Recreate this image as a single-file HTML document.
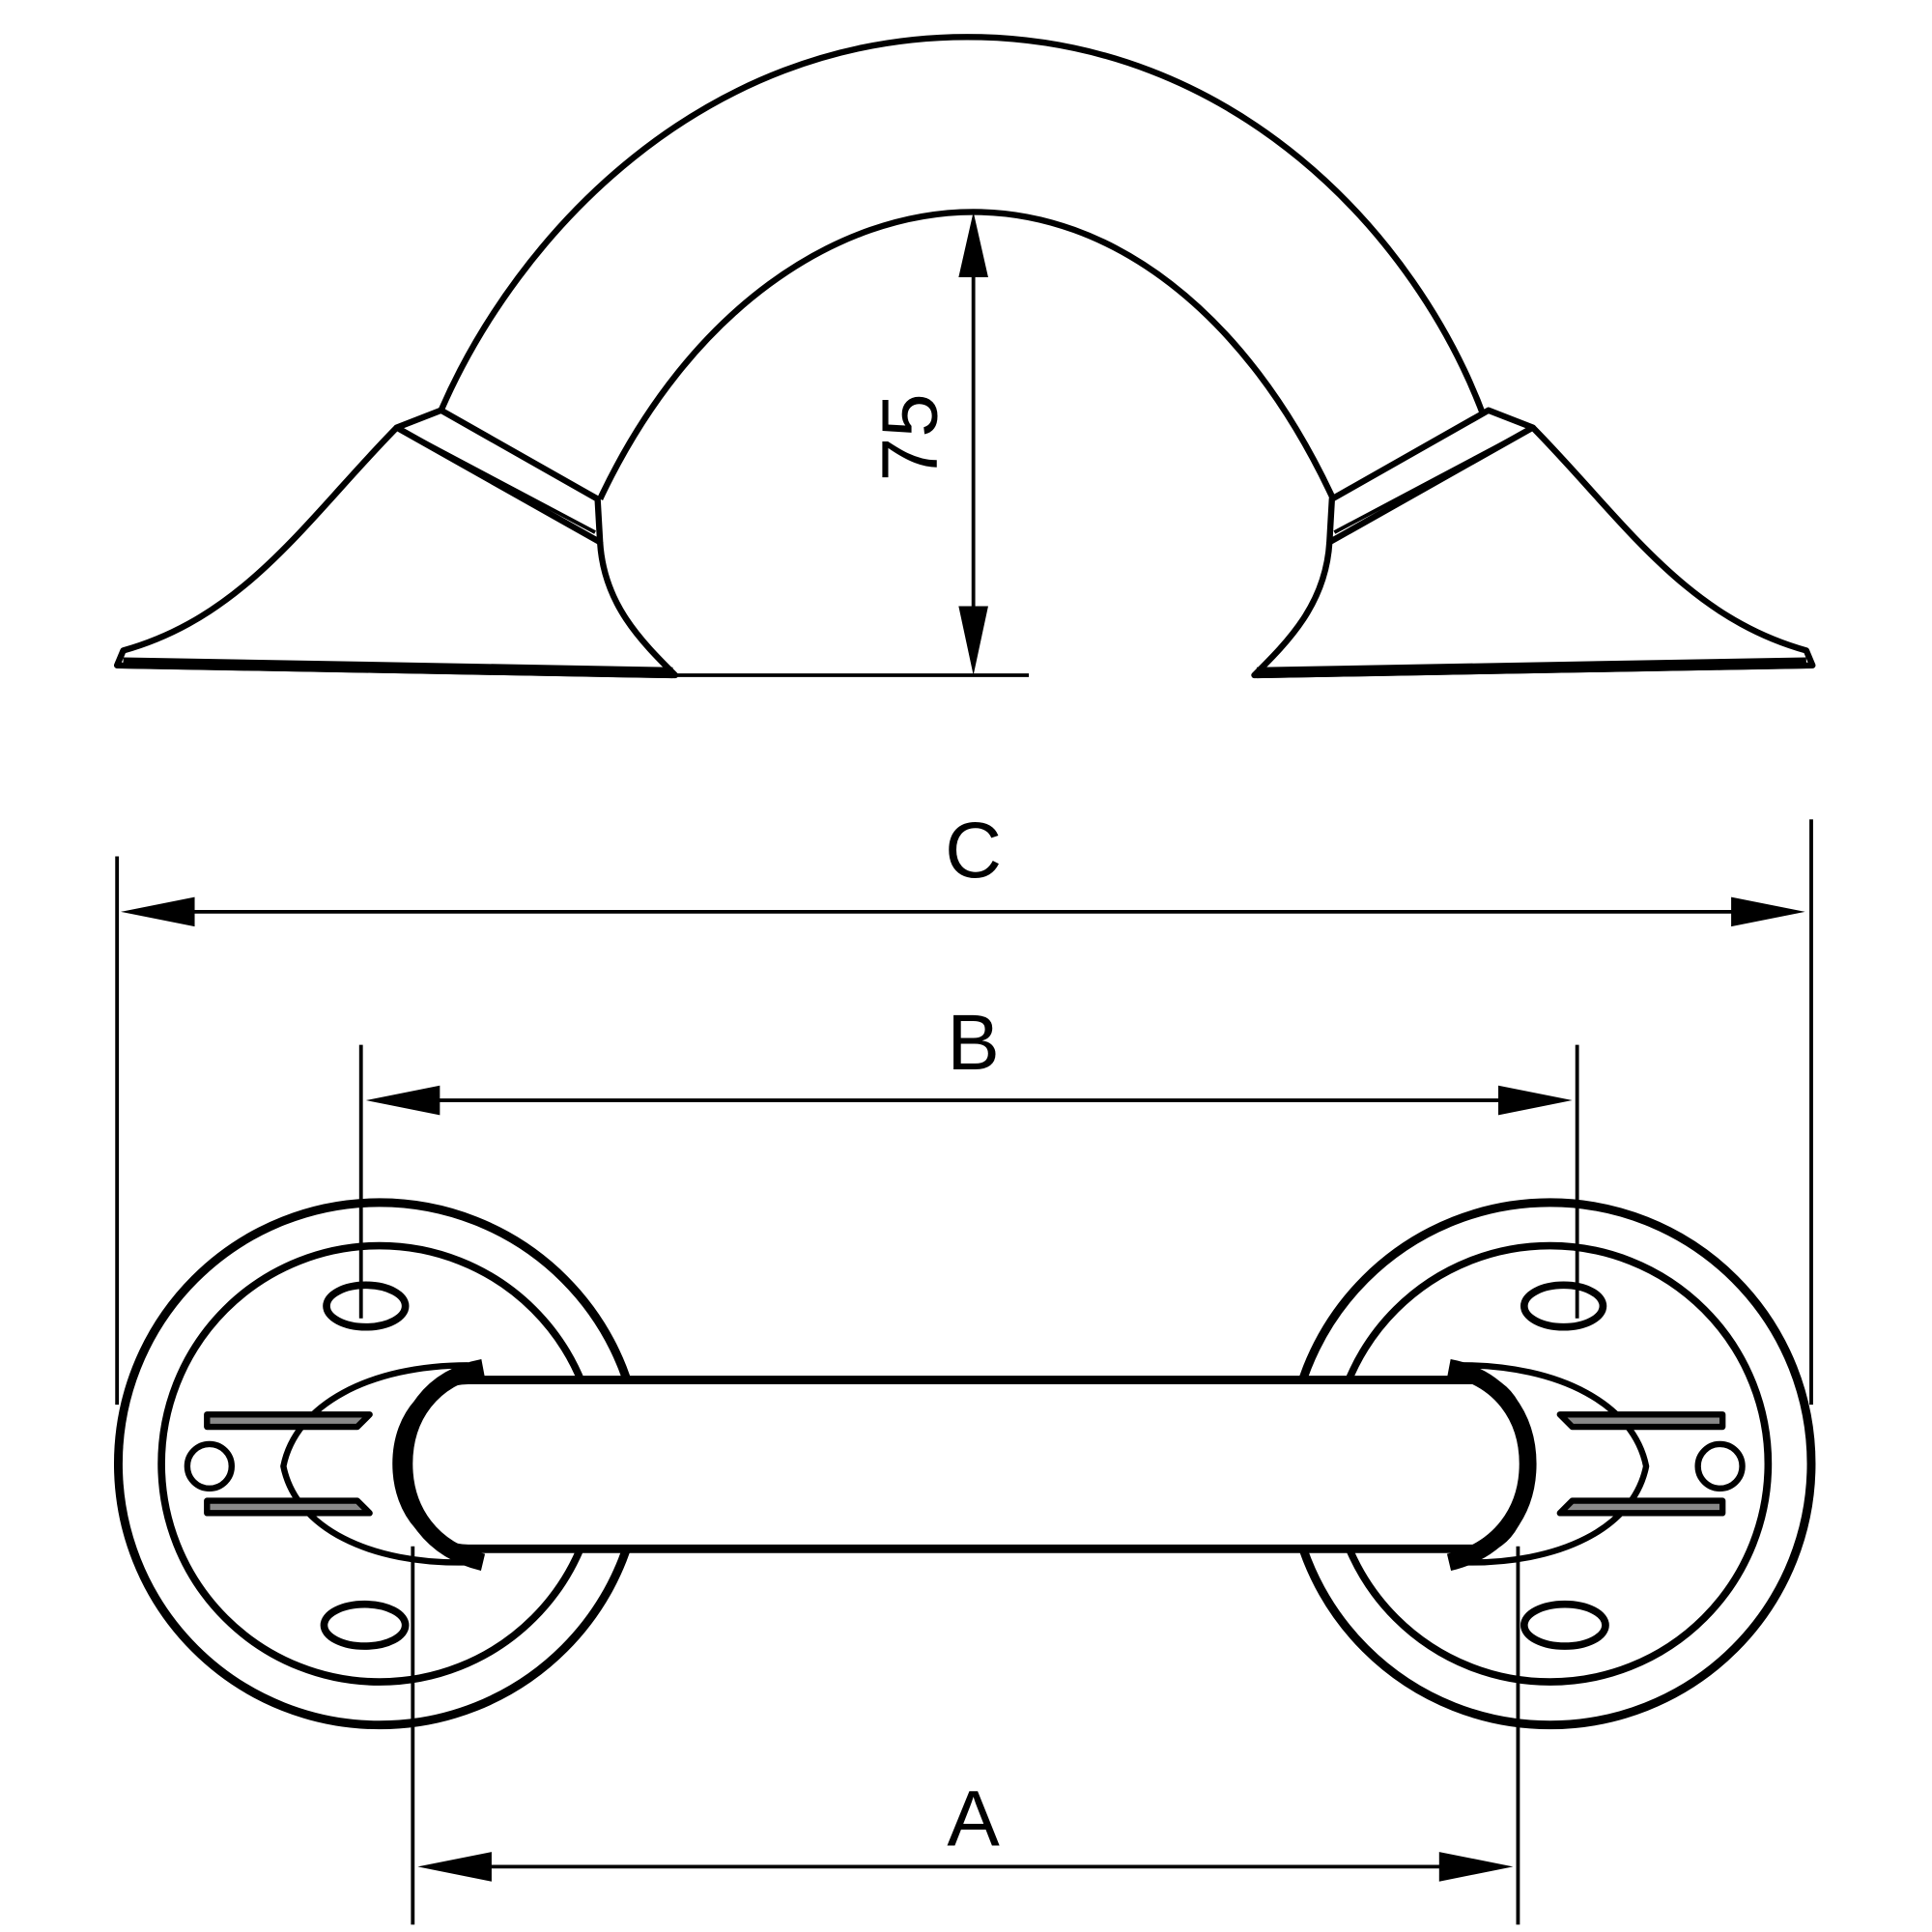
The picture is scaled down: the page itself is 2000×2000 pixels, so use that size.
<!DOCTYPE html>
<html><head><style>html,body{margin:0;padding:0;background:#fff}svg{display:block}</style></head>
<body>
<svg width="2000" height="2000" viewBox="0 0 1568 1568" xmlns="http://www.w3.org/2000/svg">
<defs>
<g id="half" fill="none" stroke="#000" stroke-width="5" stroke-linejoin="round">
  <path d="M322,347 C250,420 200,500 100,528 L95,540 L548,548 C520,520 490,490 487,440" fill="#fff"/>
  <path d="M100,538 L546,546" stroke-width="9"/>
  <path d="M322,347 L358,333 L485,405 L487,440 Z" fill="#fff"/>
  <path d="M332,352 L483,432" stroke-width="3"/>
  <circle cx="308" cy="1188" r="212" stroke-width="7"/>
  <circle cx="308" cy="1188" r="177" stroke-width="6"/>
  <ellipse cx="297" cy="1060" rx="32" ry="17" stroke-width="6"/>
  <ellipse cx="296" cy="1319" rx="33" ry="17" stroke-width="6"/>
  <circle cx="170" cy="1190" r="18" stroke-width="5"/>
  <path d="M380,1108 C300,1108 240,1140 230,1190 C240,1240 300,1270 380,1268" stroke-width="5"/>
  <path d="M168,1148 L300,1148 L290,1158 L168,1158 Z" fill="#888" stroke-width="5"/>
  <path d="M168,1228 L300,1228 L290,1218 L168,1218 Z" fill="#888" stroke-width="5"/>
</g>
</defs>
<rect width="1568" height="1568" fill="#fff"/>
<path d="M358,333 C420,190 570,30 785,30 C1000,30 1150,190 1205,340" fill="none" stroke="#000" stroke-width="5"/>
<path d="M487,405 C560,250 680,172 790,172 C900,172 1010,250 1082,405" fill="none" stroke="#000" stroke-width="5"/>
<use href="#half"/>
<use href="#half" transform="translate(1566,0) scale(-1,1)"/>
<path d="M380,1120 L1200,1120 C1225,1120 1240,1150 1240,1188 C1240,1226 1225,1257 1200,1257 L380,1257 C350,1257 322,1230 322,1188 C322,1146 350,1120 380,1120 Z" fill="#fff" stroke="#000" stroke-width="7"/>
<path d="M392,1110 C350,1118 328,1150 328,1188 C328,1226 350,1258 392,1268" fill="none" stroke="#000" stroke-width="14"/>
<path d="M1176,1110 C1218,1118 1240,1150 1240,1188 C1240,1226 1218,1258 1176,1268" fill="none" stroke="#000" stroke-width="14"/>
<g stroke="#000" stroke-width="3" fill="none">
  <line x1="548" y1="548" x2="835" y2="548"/>
  <line x1="790" y1="200" x2="790" y2="520"/>
  <line x1="95" y1="695" x2="95" y2="1140"/>
  <line x1="1470" y1="665" x2="1470" y2="1140"/>
  <line x1="120" y1="740" x2="1440" y2="740"/>
  <line x1="293" y1="848" x2="293" y2="1070"/>
  <line x1="1280" y1="848" x2="1280" y2="1070"/>
  <line x1="320" y1="893" x2="1255" y2="893"/>
  <line x1="335" y1="1255" x2="335" y2="1562"/>
  <line x1="1232" y1="1255" x2="1232" y2="1562"/>
  <line x1="360" y1="1515" x2="1210" y2="1515"/>
</g>
<g fill="#000">
  <polygon points="790,172 778,225 802,225"/>
  <polygon points="790,548 778,492 802,492"/>
  <polygon points="98,740 158,728 158,752"/>
  <polygon points="1465,740 1405,728 1405,752"/>
  <polygon points="297,893 357,881 357,905"/>
  <polygon points="1276,893 1216,881 1216,905"/>
  <polygon points="339,1515 399,1503 399,1527"/>
  <polygon points="1228,1515 1168,1503 1168,1527"/>
</g>
<g font-family="Liberation Sans, sans-serif" font-size="64" text-anchor="middle" fill="#000">
  <text x="790" y="712">C</text>
  <text x="790" y="868">B</text>
  <text x="790" y="1498">A</text>
  <text transform="translate(760,355) rotate(-90)">75</text>
</g>
</svg>
</body></html>
